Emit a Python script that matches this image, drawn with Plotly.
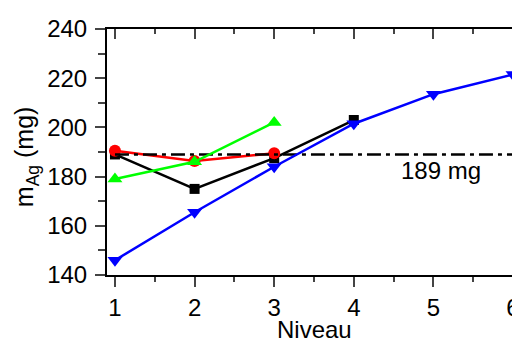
import plotly.graph_objects as go

niveau = [1, 2, 3, 4, 5, 6]
black_sq = [189, 175, 187.5, 203]
red_circ = [190.5, 186.3, 189.5]
green_up = [179, 186, 202]
blue_down = [146, 165.5, 184, 201.5, 213.5, 221.5]
ref_value = 189
ref_label = "189 mg"
y_ticks = [140, 160, 180, 200, 220, 240]

FONT = "Liberation Sans, Arial, sans-serif"
FS = 24

fig = go.Figure()
fig.add_trace(go.Scatter(x=niveau[:len(black_sq)], y=black_sq, mode="lines+markers",
                         line=dict(color="black", width=2.5),
                         marker=dict(symbol="square", size=10, color="black")))
fig.add_trace(go.Scatter(x=niveau[:len(red_circ)], y=red_circ, mode="lines+markers",
                         line=dict(color="#ff0000", width=2.5),
                         marker=dict(symbol="circle", size=12, color="#ff0000")))
fig.add_trace(go.Scatter(x=[niveau[0], niveau[-1]], y=[ref_value, ref_value], mode="lines",
                         line=dict(color="black", width=2.5, dash="14px,5px,4px,5px")))
fig.add_trace(go.Scatter(x=niveau[:len(green_up)], y=green_up, mode="lines+markers",
                         line=dict(color="#00ff00", width=2.5),
                         marker=dict(symbol="triangle-up", size=13, color="#00ff00")))
fig.add_trace(go.Scatter(x=niveau, y=blue_down, mode="lines+markers",
                         line=dict(color="#0000ff", width=2.5),
                         marker=dict(symbol="triangle-down", size=13, color="#0000ff")))
# invisible trace to activate mirror axes
fig.add_trace(go.Scatter(x=[1], y=[140], xaxis="x2", yaxis="y2", mode="markers",
                         marker=dict(size=1, opacity=0), hoverinfo="skip"))

xr = [0.9, 6.1]
yr = [140, 240]

fig.update_layout(
    width=520, height=338,
    margin=dict(l=99, r=7, t=17, b=71),
    plot_bgcolor="white", paper_bgcolor="white",
    showlegend=False,
    font=dict(family=FONT, size=FS, color="black"),
    xaxis=dict(range=xr, tickvals=niveau, ticks="outside", ticklen=10, tickwidth=2,
               showline=True, linecolor="black", linewidth=2, showgrid=False, zeroline=False,
               ticklabelstandoff=0,
               minor=dict(ticks="outside", ticklen=5, tickwidth=2, dtick=0.5, showgrid=False),
               tickfont=dict(size=FS, family=FONT)),
    yaxis=dict(range=yr, tickvals=y_ticks, ticks="outside", ticklen=10, tickwidth=2,
               showline=True, linecolor="black", linewidth=2, showgrid=False, zeroline=False,
               ticklabelstandoff=3,
               minor=dict(ticks="outside", ticklen=7, tickwidth=2, dtick=10, showgrid=False),
               tickfont=dict(size=FS, family=FONT)),
    xaxis2=dict(range=xr, overlaying="x", side="top", tickvals=niveau, ticks="inside", ticklen=10, tickwidth=2,
                showline=True, linecolor="black", linewidth=2, showticklabels=False, showgrid=False,
                zeroline=False,
                minor=dict(ticks="inside", ticklen=5, tickwidth=2, dtick=0.5, showgrid=False)),
    yaxis2=dict(range=yr, overlaying="y", side="right", tickvals=y_ticks,
                ticks="inside", ticklen=9, tickwidth=2, showline=True, linecolor="black", linewidth=2,
                showticklabels=False, showgrid=False, zeroline=False,
                minor=dict(ticks="inside", ticklen=5, tickwidth=2, dtick=10, showgrid=False)),
    annotations=[
        dict(text=ref_label, x=5.62, y=182.5, xref="x", yref="y", showarrow=False,
             xanchor="right", yanchor="middle", font=dict(size=FS, family=FONT)),
        dict(text="m<sub>Ag</sub> (mg)", x=-0.195, y=0.48, xref="x domain", yref="y domain",
             xanchor="center", yanchor="middle", textangle=-90, showarrow=False,
             font=dict(size=25, family=FONT)),
        dict(text="Niveau", x=0.5, y=-0.22, xref="x domain", yref="y domain",
             xanchor="center", yanchor="middle", showarrow=False,
             font=dict(size=FS, family=FONT)),
    ],
)
fig.write_html("out.html")
